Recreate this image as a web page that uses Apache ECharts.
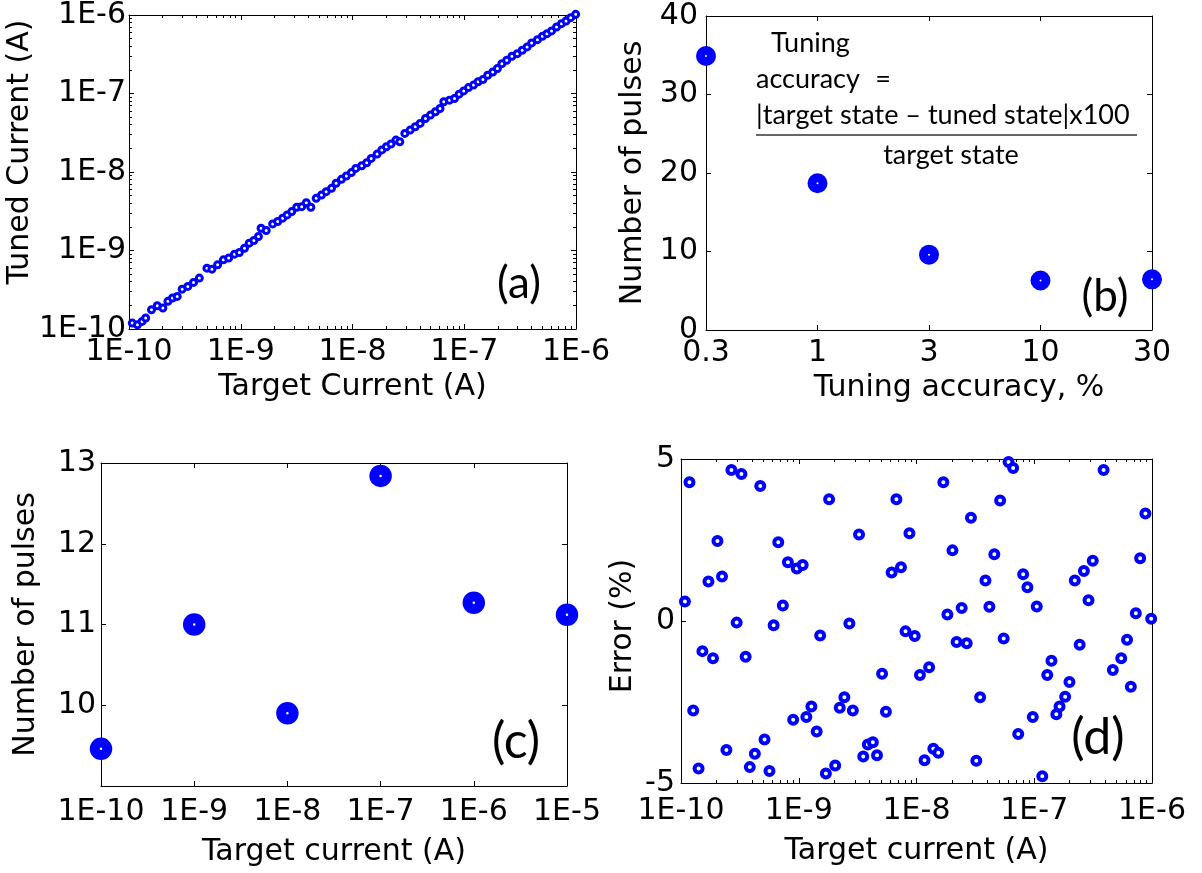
<!DOCTYPE html>
<html>
<head>
<meta charset="utf-8">
<script src="https://cdn.jsdelivr.net/npm/echarts@6/dist/echarts.min.js"></script>
<style>
  html, body { margin: 0; padding: 0; background: #fff; }
  #chart { width: 1202px; height: 873px; }
</style>
</head>
<body>
<div id="chart"></div>
<script>
// ---- (a) tuned current vs target current ----
const targetA = [1.07e-10, 1.19e-10, 1.31e-10, 1.41e-10, 1.59e-10, 1.79e-10, 2.01e-10, 2.23e-10, 2.45e-10, 2.70e-10,
  2.99e-10, 3.36e-10, 3.78e-10, 4.26e-10, 4.98e-10, 5.52e-10, 6.21e-10, 6.99e-10, 7.80e-10, 8.79e-10,
  9.72e-10, 1.08e-9, 1.19e-9, 1.31e-9, 1.44e-9, 1.52e-9, 1.69e-9, 1.93e-9, 2.14e-9, 2.37e-9,
  2.60e-9, 2.86e-9, 3.17e-9, 3.51e-9, 3.86e-9, 4.24e-9, 4.73e-9, 5.28e-9, 5.81e-9, 6.49e-9,
  7.13e-9, 7.96e-9, 8.81e-9, 9.77e-9, 1.07e-8, 1.21e-8, 1.34e-8, 1.47e-8, 1.66e-8, 1.83e-8,
  2.01e-8, 2.21e-8, 2.45e-8, 2.65e-8, 2.94e-8, 3.28e-8, 3.64e-8, 4.03e-8, 4.50e-8, 4.98e-8,
  5.52e-8, 6.07e-8, 6.56e-8, 7.38e-8, 8.18e-8, 8.99e-8, 9.89e-8, 1.09e-7, 1.21e-7, 1.33e-7,
  1.47e-7, 1.62e-7, 1.80e-7, 1.98e-7, 2.17e-7, 2.40e-7, 2.67e-7, 2.98e-7, 3.30e-7, 3.65e-7,
  4.01e-7, 4.52e-7, 5.00e-7, 5.50e-7, 6.04e-7, 6.70e-7, 7.41e-7, 8.15e-7, 8.96e-7, 9.93e-7];
const tunedA = [1.19e-10, 1.13e-10, 1.25e-10, 1.38e-10, 1.76e-10, 1.98e-10, 1.85e-10, 2.25e-10, 2.48e-10, 2.60e-10,
  3.22e-10, 3.49e-10, 3.92e-10, 4.45e-10, 5.96e-10, 5.79e-10, 6.58e-10, 7.61e-10, 8.00e-10, 8.98e-10,
  9.44e-10, 1.07e-9, 1.24e-9, 1.34e-9, 1.51e-9, 1.92e-9, 1.80e-9, 2.18e-9, 2.34e-9, 2.58e-9,
  2.84e-9, 3.13e-9, 3.56e-9, 3.62e-9, 4.07e-9, 3.56e-9, 4.62e-9, 5.10e-9, 5.62e-9, 6.19e-9,
  7.18e-9, 8.07e-9, 8.89e-9, 9.82e-9, 1.11e-8, 1.20e-8, 1.31e-8, 1.49e-8, 1.69e-8, 1.91e-8,
  2.10e-8, 2.27e-8, 2.55e-8, 2.43e-8, 3.10e-8, 3.42e-8, 3.77e-8, 4.16e-8, 4.81e-8, 5.31e-8,
  5.85e-8, 6.44e-8, 7.84e-8, 8.22e-8, 8.63e-8, 9.81e-8, 1.08e-7, 1.19e-7, 1.28e-7, 1.41e-7,
  1.51e-7, 1.71e-7, 1.88e-7, 2.08e-7, 2.40e-7, 2.65e-7, 2.98e-7, 3.22e-7, 3.56e-7, 3.92e-7,
  4.41e-7, 4.85e-7, 5.35e-7, 5.79e-7, 6.27e-7, 7.03e-7, 7.76e-7, 8.39e-7, 9.25e-7, 1.02e-6];

// ---- (b) pulses needed per tuning accuracy ----
const accuracyLabels = ['0.3', '1', '3', '10', '30'];
const pulsesB = [34.9, 18.7, 9.6, 6.3, 6.45];

// ---- (c) pulses needed per target current ----
const targetC = [1e-10, 1e-9, 1e-8, 1e-7, 1e-6, 1e-5];
const pulsesC = [9.46, 11.0, 9.9, 12.84, 11.27, 11.12];

// ---- (d) tuning error per target current ----
const targetD = [1.08e-10, 1.18e-10, 1.27e-10, 1.41e-10, 1.52e-10, 1.71e-10, 1.87e-10, 2.04e-10, 2.23e-10, 2.43e-10,
  2.68e-10, 2.97e-10, 3.26e-10, 3.54e-10, 3.84e-10, 4.24e-10, 4.71e-10, 5.12e-10, 5.64e-10, 6.12e-10,
  6.70e-10, 7.33e-10, 8.09e-10, 8.97e-10, 9.62e-10, 1.08e-9, 1.16e-9, 1.28e-9, 1.42e-9, 1.52e-9,
  1.70e-9, 1.81e-9, 2.04e-9, 2.23e-9, 2.44e-9, 2.69e-9, 2.88e-9, 3.25e-9, 3.53e-9, 3.86e-9,
  4.26e-9, 4.62e-9, 5.10e-9, 5.50e-9, 6.15e-9, 6.75e-9, 7.38e-9, 8.07e-9, 8.71e-9, 9.66e-9,
  1.07e-8, 1.17e-8, 1.28e-8, 1.39e-8, 1.53e-8, 1.69e-8, 1.83e-8, 2.02e-8, 2.19e-8, 2.42e-8,
  2.67e-8, 2.90e-8, 3.22e-8, 3.47e-8, 3.85e-8, 4.16e-8, 4.58e-8, 5.13e-8, 5.50e-8, 6.05e-8,
  6.62e-8, 7.31e-8, 8.05e-8, 8.75e-8, 9.72e-8, 1.05e-7, 1.17e-7, 1.29e-7, 1.40e-7, 1.54e-7,
  1.64e-7, 1.83e-7, 1.99e-7, 2.21e-7, 2.43e-7, 2.64e-7, 2.89e-7, 3.14e-7, 3.88e-7, 4.65e-7,
  5.48e-7, 6.14e-7, 6.61e-7, 7.29e-7, 7.93e-7, 8.79e-7, 9.84e-7];
const errorD = [0.60, 4.28, -2.76, -4.55, -0.93, 1.22, -1.15, 2.47, 1.37, -3.98,
  4.66, -0.05, 4.54, -1.10, -4.51, -4.10, 4.17, -3.66, -4.63, -0.13,
  2.43, 0.48, 1.81, -3.05, 1.62, 1.73, -2.96, -2.64, -3.41, -0.45,
  -4.71, 3.76, -4.46, -2.68, -2.35, -0.08, -2.76, 2.67, -4.18, -3.81,
  -3.74, -4.14, -1.63, -2.80, 1.50, 3.76, 1.66, -0.32, 2.71, -0.46,
  -1.67, -4.30, -1.43, -3.94, -4.07, 4.28, 0.20, 2.18, -0.65, 0.40,
  -0.69, 3.19, -4.31, -2.35, 1.25, 0.44, 2.06, 3.72, -0.54, 4.91,
  4.72, -3.49, 1.44, 1.04, -2.96, 0.45, -4.79, -1.67, -1.23, -2.88,
  -2.64, -2.34, -1.88, 1.25, -0.73, 1.54, 0.64, 1.86, 4.66, -1.51,
  -1.15, -0.58, -2.03, 0.24, 1.94, 3.32, 0.07];

// ---- styling helpers ----
const BLUE = '#0000ff';
const AXIS_FONT = { fontFamily: 'DejaVu Sans', fontSize: 30, color: '#000', lineHeight: 30 };
const expLabel = v => '1E' + Math.round(Math.log10(v));

// minor tick positions of a log decade axis, in exponent units
function minorExp(lo, hi) {
  const out = [];
  for (let e = lo; e < hi; e++) {
    for (let m = 2; m <= 9; m++) out.push(e + Math.log10(m));
  }
  return out;
}

function frame(g, pos, extra) {
  return Object.assign({
    gridIndex: g,
    position: pos,
    axisLine: { show: true, onZero: false, lineStyle: { color: '#000', width: 1 } },
    axisTick: { show: true, inside: true, length: 5, lineStyle: { color: '#000', width: 1 } },
    axisLabel: { show: false },
    splitLine: { show: false },
    minorTick: { show: false }
  }, extra);
}
function minorFrame(g, pos, lo, hi) {
  return frame(g, pos, {
    type: 'value', min: lo, max: hi,
    axisLine: { show: false, onZero: false },
    axisTick: { show: true, inside: true, length: 3, customValues: minorExp(lo, hi),
      lineStyle: { color: '#000', width: 1 } }
  });
}

const grids = [
  { left: 129, top: 15, width: 447, height: 314 },
  { left: 706, top: 16, width: 446, height: 314 },
  { left: 101, top: 463, width: 466, height: 323 },
  { left: 681, top: 459, width: 471, height: 324 }
];

const xAxis = [];
const yAxis = [];

// (a)
xAxis.push(frame(0, 'bottom', {
  type: 'log', logBase: 10, min: 1e-10, max: 1e-6,
  axisLabel: Object.assign({ show: true, formatter: expLabel, margin: 8 }, AXIS_FONT),
  name: 'Target Current (A)', nameLocation: 'middle', nameGap: 43, nameTextStyle: AXIS_FONT
}));                                                                   // x0
xAxis.push(frame(0, 'top', { type: 'value', min: -10, max: -6, interval: 1 }));   // x1
xAxis.push(minorFrame(0, 'bottom', -10, -6));                           // x2
xAxis.push(minorFrame(0, 'top', -10, -6));                              // x3
yAxis.push(frame(0, 'left', {
  type: 'log', logBase: 10, min: 1e-10, max: 1e-6,
  axisLabel: Object.assign({ show: true, formatter: expLabel, margin: 3 }, AXIS_FONT),
  name: 'Tuned Current (A)', nameLocation: 'middle', nameGap: 86,
  nameTextStyle: Object.assign({ padding: [0, 0, 0, 40] }, AXIS_FONT)
}));                                                                   // y0
yAxis.push(frame(0, 'right', { type: 'value', min: -10, max: -6, interval: 1 }));  // y1
yAxis.push(minorFrame(0, 'left', -10, -6));                             // y2
yAxis.push(minorFrame(0, 'right', -10, -6));                            // y3

// (b)
xAxis.push(frame(1, 'bottom', {
  type: 'category', data: accuracyLabels, boundaryGap: false,
  axisLabel: Object.assign({ show: true, interval: 0, margin: 8 }, AXIS_FONT),
  name: 'Tuning accuracy, %', nameLocation: 'middle', nameGap: 43,
  nameTextStyle: Object.assign({ padding: [0, 0, 0, 60] }, AXIS_FONT)
}));                                                                   // x4
xAxis.push(frame(1, 'top', { type: 'category', data: accuracyLabels, boundaryGap: false }));  // x5
yAxis.push(frame(1, 'left', {
  type: 'value', min: 0, max: 40, interval: 10,
  axisLabel: Object.assign({ show: true, margin: 8 }, AXIS_FONT),
  name: 'Number of pulses', nameLocation: 'middle', nameGap: 58, nameTextStyle: AXIS_FONT
}));                                                                   // y4
yAxis.push(frame(1, 'right', { type: 'value', min: 0, max: 40, interval: 10 }));  // y5

// (c)
xAxis.push(frame(2, 'bottom', {
  type: 'log', logBase: 10, min: 1e-10, max: 1e-5,
  axisLabel: Object.assign({ show: true, formatter: expLabel, margin: 11 }, AXIS_FONT),
  name: 'Target current (A)', nameLocation: 'middle', nameGap: 51, nameTextStyle: AXIS_FONT
}));                                                                   // x6
xAxis.push(frame(2, 'top', { type: 'value', min: -10, max: -5, interval: 1 }));   // x7
yAxis.push(frame(2, 'left', {
  type: 'value', min: 9, max: 13, interval: 1,
  axisLabel: Object.assign({ show: true, margin: 5, showMinLabel: false }, AXIS_FONT),
  name: 'Number of pulses', nameLocation: 'middle', nameGap: 60, nameTextStyle: AXIS_FONT
}));                                                                   // y6
yAxis.push(frame(2, 'right', { type: 'value', min: 9, max: 13, interval: 1 }));   // y7

// (d)
xAxis.push(frame(3, 'bottom', {
  type: 'log', logBase: 10, min: 1e-10, max: 1e-6,
  axisLabel: Object.assign({ show: true, formatter: expLabel, margin: 13 }, AXIS_FONT),
  name: 'Target current (A)', nameLocation: 'middle', nameGap: 53, nameTextStyle: AXIS_FONT
}));                                                                   // x8
xAxis.push(frame(3, 'top', { type: 'value', min: -10, max: -6, interval: 1 }));   // x9
xAxis.push(minorFrame(3, 'bottom', -10, -6));                           // x10
xAxis.push(minorFrame(3, 'top', -10, -6));                              // x11
yAxis.push(frame(3, 'left', {
  type: 'value', min: -5, max: 5, interval: 5,
  axisLabel: Object.assign({ show: true, margin: 6 }, AXIS_FONT),
  name: 'Error (%)', nameLocation: 'middle', nameGap: 43,
  nameTextStyle: Object.assign({ padding: [0, 10, 0, 0] }, AXIS_FONT)
}));                                                                   // y8
yAxis.push(frame(3, 'right', { type: 'value', min: -5, max: 5, interval: 5 }));   // y9

// thick blue ring markers (white core, blue outline)
function ring(size, border) {
  return {
    symbol: 'circle', symbolSize: size, clip: false,
    itemStyle: { color: '#fff', borderColor: BLUE, borderWidth: border, opacity: 1 },
    emphasis: { disabled: true }
  };
}

const series = [
  Object.assign({ type: 'scatter', xAxisIndex: 0, yAxisIndex: 0,
    data: targetA.map((t, i) => [t, tunedA[i]]) }, ring(6, 3)),
  Object.assign({ type: 'scatter', xAxisIndex: 4, yAxisIndex: 4,
    data: accuracyLabels.map((c, i) => [c, pulsesB[i]]) }, ring(11, 9)),
  Object.assign({ type: 'scatter', xAxisIndex: 6, yAxisIndex: 6,
    data: targetC.map((t, i) => [t, pulsesC[i]]) }, ring(12.5, 10)),
  Object.assign({ type: 'scatter', xAxisIndex: 8, yAxisIndex: 8,
    data: targetD.map((t, i) => [t, errorD[i]]) }, ring(8, 4))
];

function label(text, x, y, size) {
  return { type: 'text', x: x, y: y, z: 10,
    style: { text: text, fill: '#000', font: size + 'px Lato', align: 'center', verticalAlign: 'middle' } };
}
function note(text, x, y, align) {
  return { type: 'text', x: x, y: y, z: 10,
    style: { text: text, fill: '#000', font: '27px Lato', align: align || 'left', verticalAlign: 'middle' } };
}

const graphic = [
  label('(a)', 519, 284, 44),
  label('(b)', 1105, 297, 44),
  label('(c)', 516, 742, 50),
  label('(d)', 1098, 738, 50),
  note('Tuning', 771, 43),
  note('accuracy', 756, 79),
  note('=', 883, 79, 'center'),
  note('|target state \u2013 tuned state|x100', 756, 115),
  { type: 'line', z: 10, shape: { x1: 756, y1: 135, x2: 1137, y2: 135 },
    style: { stroke: '#333', lineWidth: 1.5 } },
  note('target state', 951, 155, 'center')
];

const chart = echarts.init(document.getElementById('chart'), null, { renderer: 'canvas' });
chart.setOption({
  animation: false,
  backgroundColor: '#fff',
  grid: grids,
  xAxis: xAxis,
  yAxis: yAxis,
  series: series,
  graphic: graphic
});
</script>
</body>
</html>
